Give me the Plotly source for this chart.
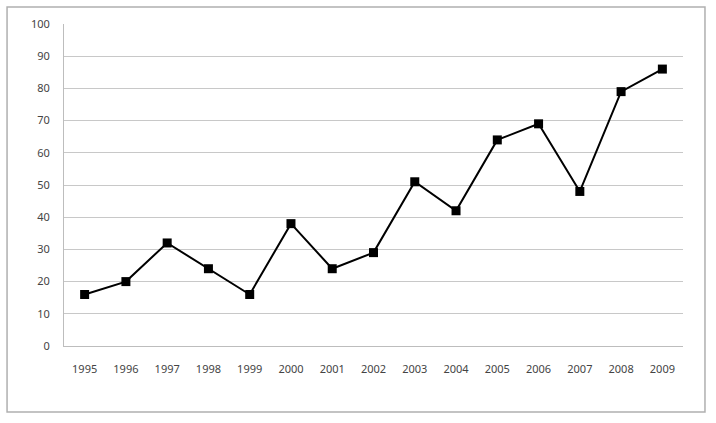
import plotly.graph_objects as go

anos = ['1995', '1996', '1997', '1998', '1999', '2000', '2001', '2002',
        '2003', '2004', '2005', '2006', '2007', '2008', '2009']
valores = [16, 20, 32, 24, 16, 38, 24, 29, 51, 42, 64, 69, 48, 79, 86]

fig = go.Figure()
fig.add_trace(go.Scatter(
    x=anos,
    y=valores,
    mode='lines+markers',
    line=dict(color='#000000', width=2),
    marker=dict(symbol='square', size=9, color='#000000'),
    showlegend=False,
))

fig.update_layout(
    width=716,
    height=423,
    margin=dict(l=64, r=33, t=24, b=77),
    paper_bgcolor='white',
    plot_bgcolor='white',
    font=dict(family='Noto Sans, sans-serif', size=11, color='#444444'),
)

fig.update_xaxes(
    type='category',
    range=[-0.5, len(anos) - 0.5],
    showgrid=False,
    showline=True,
    linecolor='#bdbdbd',
    linewidth=1,
    ticks='',
    ticklabelstandoff=13,
)
fig.update_yaxes(
    range=[0, 100],
    dtick=10,
    showgrid=True,
    gridcolor='#c8c8c8',
    gridwidth=1,
    showline=True,
    linecolor='#bdbdbd',
    linewidth=1,
    zeroline=False,
    ticks='',
    ticklabelstandoff=11,
)

# moldura externa do gráfico
fig.add_shape(
    type='rect', xref='paper', yref='paper',
    x0=-0.092, x1=1.0355, y0=-0.205, y1=1.0528,
    line=dict(color='#b0b0b0', width=1.5),
    layer='below',
)

# tira a margem padrão do body pra figura ficar no canto da página
fig.write_html('out.html', config={'displayModeBar': False},
               post_script="document.body.style.margin='0';")
